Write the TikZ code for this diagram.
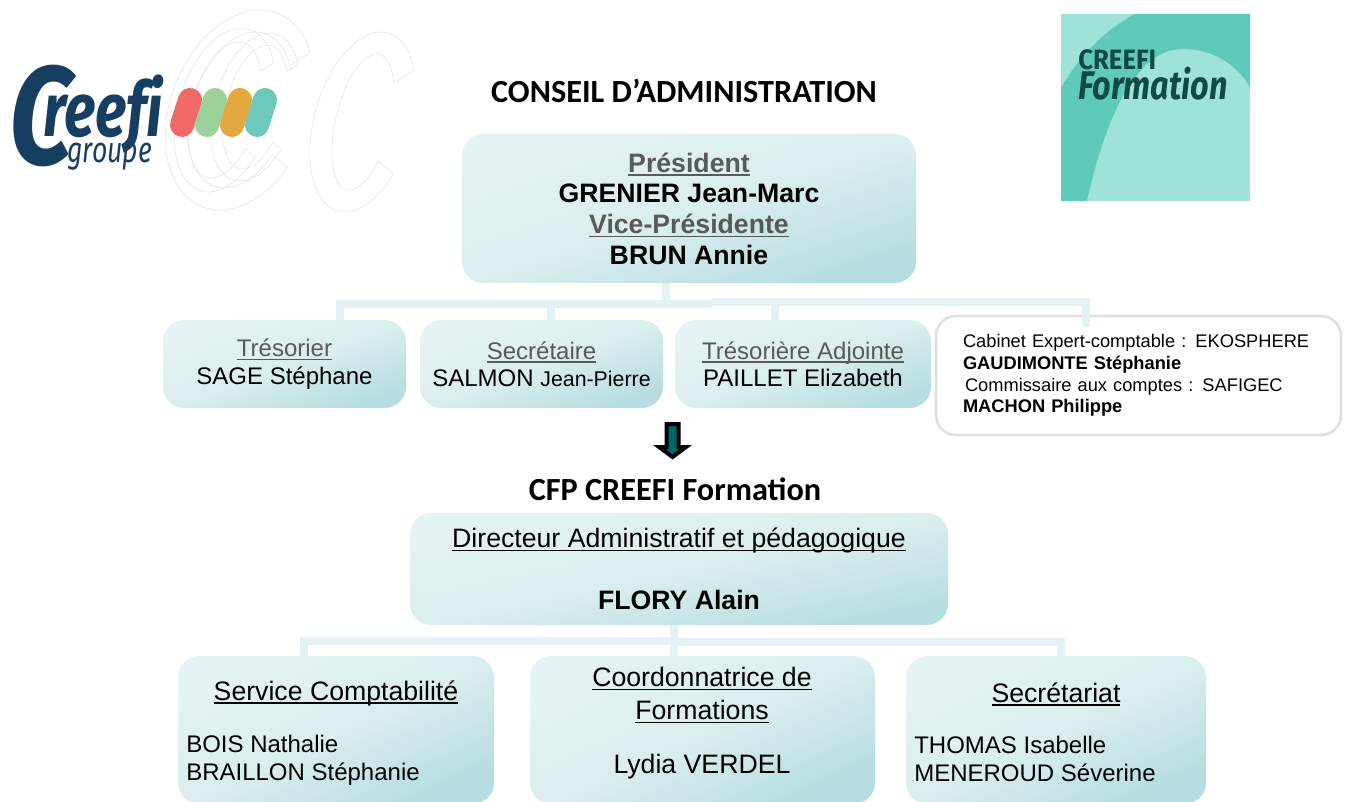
\documentclass[tikz,border=0pt]{standalone}
\usepackage{fontspec}
\usepackage{graphicx}
\setmainfont{Liberation Sans}
\newfontfamily\titlefont{Carlito}
\newfontfamily\logofont{Fira Sans}
\definecolor{boxlight}{HTML}{E4F3F3}
\definecolor{boxmid}{HTML}{DBEEEF}
\definecolor{boxdark}{HTML}{B6DDE1}
\definecolor{barcolor}{HTML}{E3F2F2}
\definecolor{graytext}{HTML}{595959}
\definecolor{framegray}{HTML}{E0E0E0}
\definecolor{ghostgray}{HTML}{E6E6E6}
\definecolor{creefiblue}{HTML}{153E60}
\definecolor{arrowteal}{HTML}{006666}
\definecolor{mintlight}{HTML}{9FE3D8}
\definecolor{mintdark}{HTML}{5FCABA}
\definecolor{mintink}{HTML}{0F4A44}
\definecolor{pillred}{HTML}{EF6A66}
\definecolor{pillgreen}{HTML}{9BD29A}
\definecolor{pillorange}{HTML}{E3A93F}
\definecolor{pillteal}{HTML}{6DC9BC}
\tikzset{
  orgbox/.style={shape=rectangle, rounded corners=16pt, inner sep=0pt, outer sep=0pt,
    top color=boxlight, bottom color=boxdark, middle color=boxmid, shading angle=#1,
    align=center, font=\fontsize{18}{20.5}\selectfont},
  namebox/.style={orgbox=20, minimum width=243*0.75pt, minimum height=88*0.75pt},
  lowbox/.style={orgbox=25, minimum height=148*0.75pt},
  linkbar/.style={draw=barcolor, line width=6pt},
  titletext/.style={font=\titlefont\bfseries\fontsize{24.2}{27}\selectfont},
  lowtext/.style={font=\fontsize{20}{24.5}\selectfont, align=center},
  listtext/.style={font=\fontsize{18}{20.5}\selectfont, align=left, anchor=base west, inner sep=0pt},
  ghostline/.style={draw=ghostgray, line width=0.5pt},
  pill/.style={line width=18pt, line cap=round},
}
\newsavebox{\ulinebox}
\newcommand{\uline}[1]{\sbox{\ulinebox}{#1}\usebox{\ulinebox}\llap{\rule[-2.6pt]{\wd\ulinebox}{0.9pt}}}
\newcommand{\grayul}[1]{\textcolor{graytext}{\uline{#1}}}
\begin{document}
\begin{tikzpicture}[x=0.75pt, y=-0.75pt]
\useasboundingbox (0,0) rectangle (1346,802);

% Pale outlines behind the left logo
\foreach \cx/\cy/\rx/\ry/\band in {240/110/72/100/22, 225/110/48/82/14, 255/107/42/74/12, 363/122/50/90/22}
  \draw[ghostline, shift={(\cx,\cy)}, xslant=0.2]
    (-35:{\rx} and {\ry}) arc[start angle=-35, end angle=-325, x radius=\rx, y radius=\ry]
    -- (-325:{\rx-\band} and {\ry-\band}) arc[start angle=-325, end angle=-35, x radius=\rx-\band, y radius=\ry-\band]
    -- cycle;

% Left logo
\node[anchor=base west, inner sep=0pt, text=creefiblue] (logoC) at (9,165)
  {\fontsize{105}{105}\logofont\bfseries\itshape\scalebox{0.8}[1]{C}};
\node[anchor=base west, inner sep=0pt, text=creefiblue] (logoname) at (43,137)
  {\fontsize{57}{57}\logofont\bfseries\itshape\scalebox{0.77}[1]{reef\kern0pt i}};
\node[anchor=base west, inner sep=0pt, text=creefiblue] (logogroup) at (67,163)
  {\fontsize{27}{27}\logofont\itshape\scalebox{0.74}[1]{groupe}};
\draw[pill, draw=pillred] (190,100) -- (182,125);
\draw[pill, draw=pillgreen] (215,100) -- (207,125);
\draw[pill, draw=pillorange] (240,100) -- (232,125);
\draw[pill, draw=pillteal] (265,100) -- (257,125);

% Right logo
\fill[mintlight] (1061,14) rectangle (1250,201);
\fill[mintdark] (1061,88) .. controls (1080,55) and (1105,30) .. (1135,14)
  -- (1250,14) -- (1250,87) .. controls (1235,62) and (1210,49) .. (1183,49)
  .. controls (1135,49) and (1105,120) .. (1087,201) -- (1061,201) -- cycle;
\node[anchor=base west, inner sep=0pt, text=mintink] (creefi) at (1078,70)
  {\fontsize{21}{21}\logofont\bfseries\scalebox{0.92}[1]{CREEFI}};
\node[anchor=base west, inner sep=0pt, text=mintink] (formation) at (1078,100)
  {\fontsize{30}{30}\logofont\bfseries\itshape\scalebox{0.81}[1]{Formation}};

% Titles
\node[titletext] (council) at (684,91) {CONSEIL D’ADMINISTRATION};
\node[titletext] (cfp) at (675,489) {CFP CREEFI Formation};

% Connector points
\coordinate (stemtop) at (666,304);
\coordinate (dropa) at (340,304);
\coordinate (dropb) at (551,304);
\coordinate (busmid) at (712,304);
\coordinate (busright) at (712,302);
\coordinate (dropc) at (775,302);
\coordinate (dropd) at (1086,302);
\coordinate (lowstem) at (674,641);
\coordinate (lowa) at (304,641);
\coordinate (lowmid) at (678,642);
\coordinate (lowb) at (1061,642);

% Upper part
\node[orgbox=18, minimum width=454*0.75pt, minimum height=149*0.75pt,
  font=\bfseries\fontsize{20}{23}\selectfont] (pres) at (689,208.5)
  {\grayul{Président}\\GRENIER Jean-Marc\\\grayul{Vice-Présidente}\\BRUN Annie};
\node[namebox] (tres) at (284.5,364) {\grayul{Trésorier}\\SAGE Stéphane};
\node[namebox] (secr) at (541.5,364) {\grayul{Secrétaire}\\SALMON {\fontsize{16}{20.5}\selectfont Jean-Pierre}};
\node[namebox, minimum width=256*0.75pt] (adj) at (803,364) {\grayul{Trésorière Adjointe}\\PAILLET Elizabeth};
\node[draw=framegray, line width=2pt, rounded corners=15pt, inner sep=0pt, fill=white,
  minimum width=405*0.75pt, minimum height=119*0.75pt, text width=351*0.75pt, align=left,
  font=\fontsize{13.7}{16.2}\selectfont] (audit) at (1138.5,375.5)
  {\mbox{Cabinet Expert-comptable : EKOSPHERE}\\\textbf{GAUDIMONTE Stéphanie}\\\mbox{\hspace*{1.5pt}Commissaire aux comptes : SAFIGEC}\\\textbf{MACHON Philippe}\\[1.5pt]};

\draw[linkbar] (stemtop |- pres.south) -- (stemtop);
\draw[linkbar] (busmid) -- (stemtop) -- (dropa) -- (dropa |- tres.north);
\draw[linkbar] (dropb) -- (dropb |- secr.north);
\draw[linkbar] (busright) -- (dropd) -- ([yshift=-9pt]dropd |- audit.north);
\draw[linkbar] (dropc) -- (dropc |- adj.north);

% Arrow between the two parts
\draw[fill=arrowteal, draw=black, line width=3pt, miter limit=10]
  (666.5,424) -- (678.5,424) -- (678.5,447) -- (686,447) -- (672.5,457)
  -- (659,447) -- (666.5,447) -- cycle;

% Lower part
\node[orgbox=12, minimum width=538*0.75pt, minimum height=112*0.75pt,
  font=\fontsize{20}{23}\selectfont] (dir) at (679,569)
  {\uline{Directeur Administratif et pédagogique}\\[23.5pt]\textbf{FLORY Alain}};
\node[lowbox, minimum width=316*0.75pt] (compta) at (336,730) {};
\node[lowbox, minimum width=345*0.75pt] (coord) at (702.5,730) {};
\node[lowbox, minimum width=300*0.75pt] (secret) at (1056,730) {};

\node[lowtext] (comptahead) at (336,693) {\uline{Service Comptabilité}};
\node[listtext] (comptalist) at (186,780) {BOIS Nathalie\\BRAILLON Stéphanie};
\node[lowtext] (coordhead) at (702,695) {\uline{Coordonnatrice de}\\\uline{Formations}};
\node[lowtext] (coordname) at (702,767) {Lydia VERDEL};
\node[lowtext] (secrethead) at (1056,694) {\uline{Secrétariat}};
\node[listtext] (secretlist) at (914,781) {THOMAS Isabelle\\MENEROUD Séverine};

\draw[linkbar] (lowstem |- dir.south) -- (lowstem |- coord.north);
\draw[linkbar] (lowstem) -- (lowa) -- (lowa |- compta.north);
\draw[linkbar] (lowmid) -- (lowb) -- (lowb |- secret.north);
\end{tikzpicture}
\end{document}
